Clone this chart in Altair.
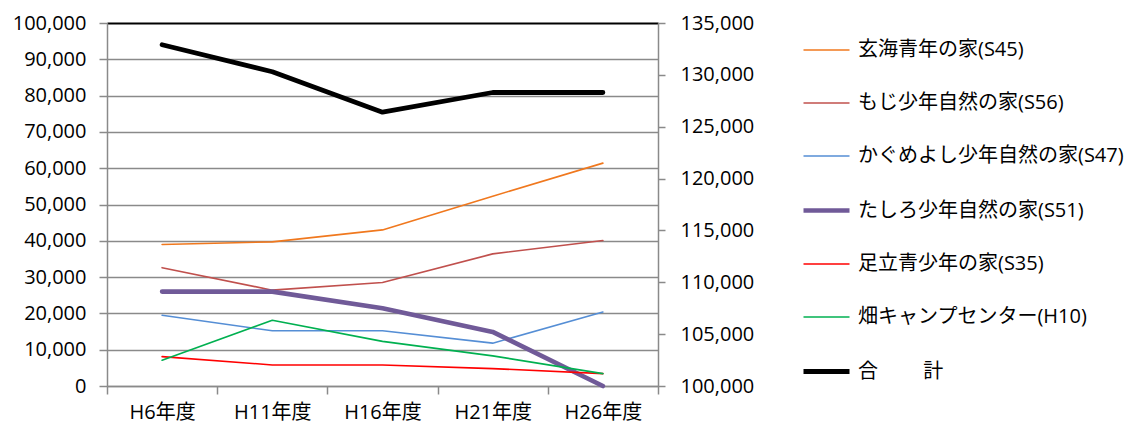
import altair as alt
import pandas as pd

categories = ["H6年度", "H11年度", "H16年度", "H21年度", "H26年度"]
series_names = [
    "玄海青年の家(S45)",
    "もじ少年自然の家(S56)",
    "かぐめよし少年自然の家(S47)",
    "たしろ少年自然の家(S51)",
    "足立青少年の家(S35)",
    "畑キャンプセンター(H10)",
]
total_name = "合　　 計"

genkai = [39000, 39700, 43000, 52300, 61400]
moji = [32600, 26400, 28500, 36400, 40100]
kagume = [19500, 15200, 15200, 11800, 20400]
tashiro = [26000, 26000, 21400, 14900, 0]
adachi = [8100, 5800, 5800, 4800, 3400]
hata = [7100, 18100, 12300, 8300, 3400]
total = [132900, 130300, 126400, 128300, 128300]

colors = ["#F0781E", "#C0504D", "#558ED5", "#705A98", "#FF0000", "#00B050", "#000000"]
widths = [1.6, 1.6, 1.6, 4.6, 1.6, 1.6, 4.8]

left_axis_values = list(range(0, 100001, 10000))
right_axis_values = list(range(100000, 135001, 5000))

series_values = [genkai, moji, kagume, tashiro, adachi, hata]
rows = []
for name, vals in zip(series_names, series_values):
    for c, v in zip(categories, vals):
        rows.append({"category": c, "series": name, "value": v})
df_left = pd.DataFrame(rows)
df_right = pd.DataFrame({"category": categories, "series": total_name, "value": total})

all_names = series_names + [total_name]
FONT = "Open Sans, Noto Sans CJK JP"
GRID = "#8a8a8a"

x_enc = alt.X(
    "category:N",
    sort=categories,
    bandPosition=0.5,
    scale=alt.Scale(type="band", paddingInner=0, paddingOuter=0),
    axis=alt.Axis(
        title=None, labelAngle=0, tickBand="extent", domainColor=GRID, domainWidth=1.5,
        tickColor=GRID, tickWidth=1.5, tickSize=8, labelPadding=8,
        labelFont=FONT, labelFontSize=20, labelColor="#000000",
    ),
)

legend = alt.Legend(
    title=None, orient="none", legendX=694, legendY=3,
    symbolType="stroke", symbolSize=2116, labelFont=FONT, labelFontSize=20,
    labelColor="#000000", labelOffset=6, rowPadding=19, labelLimit=400,
)

color_enc = alt.Color("series:N", scale=alt.Scale(domain=all_names, range=colors), legend=legend)
width_enc = alt.StrokeWidth(
    "series:N", scale=alt.Scale(type="ordinal", domain=all_names, range=widths), legend=legend
)

left_lines = alt.Chart(df_left).mark_line(strokeCap="round", strokeJoin="round").encode(
    x=x_enc,
    y=alt.Y(
        "value:Q",
        scale=alt.Scale(domain=[0, 100000], nice=False, zero=True),
        axis=alt.Axis(
            title=None, values=left_axis_values, format=",d", grid=True,
            gridColor=alt.condition("datum.value === 100000", alt.value("#000000"), alt.value(GRID)),
            gridWidth=alt.condition("datum.value === 100000", alt.value(2), alt.value(1.5)),
            domainColor=GRID, domainWidth=1.5, tickColor=GRID, tickWidth=1.5,
            tickSize=8, labelPadding=13, labelFont=FONT, labelFontSize=20, labelColor="#000000",
            labelOverlap=False,
        ),
    ),
    color=color_enc,
    strokeWidth=width_enc,
)

right_line = alt.Chart(df_right).mark_line(strokeCap="round", strokeJoin="round").encode(
    x=x_enc,
    y=alt.Y(
        "value:Q",
        scale=alt.Scale(domain=[100000, 135000], nice=False, zero=False),
        axis=alt.Axis(
            title=None, orient="right", values=right_axis_values, format=",d", grid=False,
            domainColor=GRID, domainWidth=1.5, tickColor=GRID, tickWidth=1.5, tickSize=7,
            labelPadding=15, labelFont=FONT, labelFontSize=20, labelColor="#000000",
            labelOverlap=False,
        ),
    ),
    color=color_enc,
    strokeWidth=width_enc,
)

chart = (
    alt.layer(left_lines, right_line)
    .resolve_scale(y="independent")
    .properties(width=551, height=363, padding={"left": 4, "top": 5, "right": 0, "bottom": 5})
    .configure_view(stroke=None)
    .configure(background="#ffffff")
)

chart.save("out.html", embed_options={"renderer": "svg", "actions": False})
